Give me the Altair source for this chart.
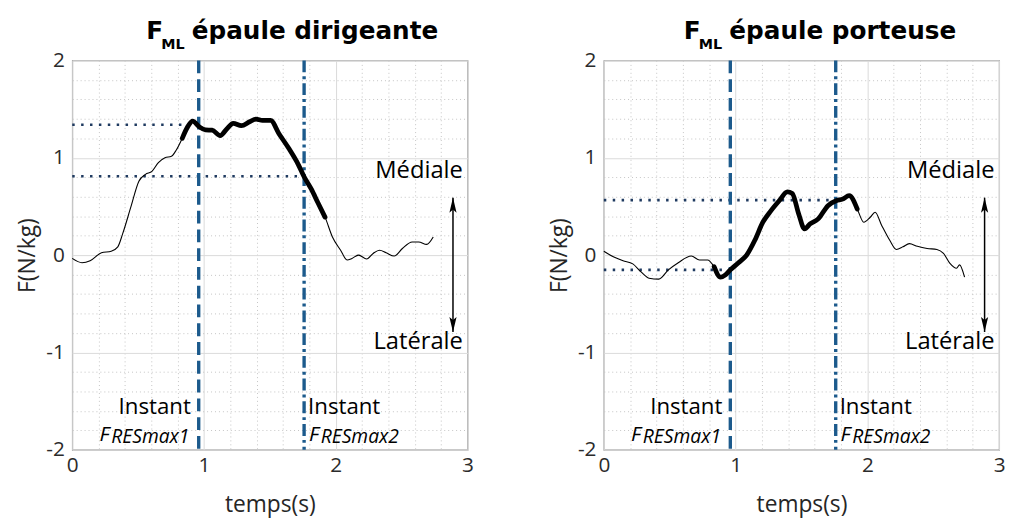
import altair as alt
import pandas as pd

# ---------------- data ----------------
left_t = [0.0, 0.074, 0.136, 0.222, 0.296, 0.346, 0.383, 0.444, 0.506, 0.556, 0.605, 0.654,
          0.704, 0.753, 0.79, 0.835, 0.877, 0.914, 0.963, 1.012, 1.062, 1.123, 1.173, 1.222,
          1.284, 1.346, 1.395, 1.444, 1.506, 1.568, 1.642, 1.716, 1.758, 1.815, 1.864, 1.919,
          1.975, 2.037, 2.086, 2.123, 2.173, 2.235, 2.284, 2.333, 2.383, 2.444, 2.506, 2.58,
          2.63, 2.69, 2.74]
left_f = [-0.034, -0.078, -0.058, 0.024, 0.04, 0.085, 0.22, 0.49, 0.76, 0.83, 0.86, 0.95,
          1.0, 1.015, 1.08, 1.20, 1.32, 1.377, 1.32, 1.286, 1.283, 1.228, 1.296, 1.354,
          1.33, 1.37, 1.398, 1.384, 1.384, 1.25, 1.10, 0.93, 0.81, 0.677, 0.54, 0.39,
          0.186, 0.05, -0.05, -0.034, 0.0, -0.04, 0.017, 0.05, 0.024, -0.01, 0.068, 0.135,
          0.135, 0.11, 0.186]

right_t = [0.0, 0.072, 0.146, 0.22, 0.28, 0.343, 0.417, 0.49, 0.565, 0.664, 0.726, 0.788,
           0.837, 0.886, 0.923, 0.96, 1.022, 1.084, 1.146, 1.207, 1.269, 1.331, 1.393, 1.43,
           1.479, 1.523, 1.565, 1.627, 1.701, 1.763, 1.812, 1.862, 1.923, 1.973, 2.022, 2.059,
           2.109, 2.17, 2.22, 2.27, 2.319, 2.38, 2.454, 2.528, 2.578, 2.627, 2.677, 2.7, 2.738]
right_f = [0.04, -0.017, -0.058, -0.09, -0.17, -0.237, -0.247, -0.152, -0.078, -0.01, -0.05, -0.05,
           -0.118, -0.227, -0.203, -0.152, -0.078, 0.0, 0.152, 0.338, 0.457, 0.558, 0.65, 0.633,
           0.423, 0.27, 0.32, 0.372, 0.508, 0.558, 0.575, 0.61, 0.474, 0.338, 0.389, 0.44,
           0.305, 0.152, 0.058, 0.085, 0.118, 0.09, 0.068, 0.058, 0.017, -0.085, -0.135, -0.1, -0.227]

left_bold = [0.835, 1.919]
right_bold = [0.837, 1.923]

instants = [0.96, 1.76]

left_levels = [1.34, 0.81]
left_level_ends = [0.84, 1.76]
right_levels = [-0.152, 0.565]
right_level_ends = [0.96, 1.76]

titles = ["épaule dirigeante", "épaule porteuse"]
x_ticks = [0, 0.2, 0.4, 0.6, 0.8, 1, 1.2, 1.4, 1.6, 1.8, 2, 2.2, 2.4, 2.6, 2.8, 3]
y_ticks = [-2, -1.8, -1.6, -1.4, -1.2, -1, -0.8, -0.6, -0.4, -0.2, 0, 0.2, 0.4, 0.6, 0.8,
           1, 1.2, 1.4, 1.6, 1.8, 2]

arrow_x = 2.89
arrow_top = 0.59
arrow_bottom = -0.79

# ---------------- styling ----------------
FONT = "Open Sans"
TFONT = "DejaVu Sans"
BLUE = "#1c5a8c"
NAVY = "#1f3a60"
W, H = 400, 394

IS_MAJOR = "abs(datum.value - round(datum.value)) < 0.000001"


def make_axis(values, label_pad, title_pad):
    return alt.Axis(
        values=values,
        labelExpr=f"{IS_MAJOR} ? '' + round(datum.value) : ''",
        labelOverlap=False,
        labelFlush=False,
        labelPadding=label_pad,
        labelFont=FONT, labelFontSize=21, labelColor="#2b2b2b",
        titleFont=FONT, titleFontSize=23, titleFontWeight="normal", titleColor="#262626",
        titlePadding=title_pad,
        ticks=False, domain=False,
        grid=True,
        gridColor={"condition": {"test": IS_MAJOR, "value": "#dadada"}, "value": "#c4c4c4"},
        gridDash={"condition": {"test": IS_MAJOR, "value": []}, "value": [1, 3]},
        gridWidth=1,
    )


x_axis = make_axis(x_ticks, 5, 18)
y_axis = make_axis(y_ticks, 8, 6)

X = alt.X("t:Q", scale=alt.Scale(domain=[0, 3], nice=False, zero=False), axis=x_axis, title="temps(s)")
Y = alt.Y("f:Q", scale=alt.Scale(domain=[-2, 2], nice=False, zero=False), axis=y_axis, title="F(N/kg)")

ARROW_UP = "M0,-1L-0.45,0.9L0,0.5L0.45,0.9Z"
ARROW_DOWN = "M0,1L-0.45,-0.9L0,-0.5L0.45,-0.9Z"


def panel(t, f, bold, levels, level_ends, title, title_x):
    curve = pd.DataFrame({"t": t, "f": f})
    base = alt.Chart(curve)

    lev = pd.DataFrame({"t": [0] * len(levels), "t2": level_ends, "f": levels})
    dotted = alt.Chart(lev).mark_rule(color=NAVY, strokeWidth=2.6, strokeDash=[2.5, 6.5]).encode(
        x=X, x2="t2:Q", y=Y)

    v1 = alt.Chart(pd.DataFrame({"t": [instants[0]]})).mark_rule(
        color=BLUE, strokeWidth=3.4, strokeDash=[13, 6]).encode(x=X)
    v2 = alt.Chart(pd.DataFrame({"t": [instants[1]]})).mark_rule(
        color=BLUE, strokeWidth=3.4, strokeDash=[12, 4, 3, 4]).encode(x=X)

    thin = base.mark_line(color="black", strokeWidth=1.1, interpolate="monotone").encode(x=X, y=Y)
    thick = base.transform_filter(
        f"datum.t >= {bold[0]} && datum.t <= {bold[1]}"
    ).mark_line(color="black", strokeWidth=4.8, interpolate="monotone", strokeCap="round").encode(x=X, y=Y)

    arrow_df = pd.DataFrame({"t": [arrow_x], "f": [arrow_bottom], "f2": [arrow_top]})
    arrow = alt.Chart(arrow_df).mark_rule(color="black", strokeWidth=1.5).encode(x=X, y=Y, y2="f2:Q")
    head_up = alt.Chart(pd.DataFrame({"t": [arrow_x], "f": [arrow_top]})).mark_point(
        shape=ARROW_UP, filled=True, color="black", size=260, opacity=1).encode(
        x=X, y=Y, yOffset=alt.value(8))
    head_dn = alt.Chart(pd.DataFrame({"t": [arrow_x], "f": [arrow_bottom]})).mark_point(
        shape=ARROW_DOWN, filled=True, color="black", size=260, opacity=1).encode(
        x=X, y=Y, yOffset=alt.value(-8))

    side = pd.DataFrame({"t": [2.965, 2.965], "f": [0.86, -0.89], "txt": ["Médiale", "Latérale"]})
    side_txt = alt.Chart(side).mark_text(
        font=FONT, fontSize=24, align="right", baseline="middle", color="black").encode(
        x=X, y=Y, text="txt:N")

    inst_l = alt.Chart(pd.DataFrame({"t": [0.90], "f": [-1.63]})).mark_text(
        text="Instant", font=FONT, fontSize=22.5, align="right", baseline="alphabetic", color="black"
    ).encode(x=X, y=Y)
    inst_r = alt.Chart(pd.DataFrame({"t": [1.79], "f": [-1.63]})).mark_text(
        text="Instant", font=FONT, fontSize=22.5, align="left", baseline="alphabetic", color="black"
    ).encode(x=X, y=Y)
    fs = pd.DataFrame({"t": [0.207, 1.797], "f": [-1.91, -1.91]})
    f_txt = alt.Chart(fs).mark_text(
        text="F", font=FONT, fontSize=21, fontStyle="italic", align="left", baseline="alphabetic",
        color="black").encode(x=X, y=Y)
    subs = pd.DataFrame({"t": [0.296, 1.886], "f": [-1.91, -1.91], "txt": ["RESmax1", "RESmax2"]})
    sub_txt = alt.Chart(subs).mark_text(
        font=FONT, fontSize=19.5, fontStyle="italic", align="left", baseline="alphabetic", dy=2,
        color="black").encode(x=X, y=Y, text="txt:N")

    one = pd.DataFrame({"k": [0]})
    t_f = alt.Chart(one).mark_text(
        text="F", font=TFONT, fontSize=25, fontWeight="bold", align="left", baseline="alphabetic",
        color="black").encode(x=alt.value(title_x[0]), y=alt.value(-22))
    t_ml = alt.Chart(one).mark_text(
        text="ML", font=TFONT, fontSize=14.5, fontWeight="bold", align="left", baseline="alphabetic",
        color="black").encode(x=alt.value(title_x[1]), y=alt.value(-12))
    t_main = alt.Chart(one).mark_text(
        text=title, font=TFONT, fontSize=25, fontWeight="bold", align="left", baseline="alphabetic",
        color="black").encode(x=alt.value(title_x[2]), y=alt.value(-22))

    return alt.layer(
        dotted, v1, v2, thin, thick, arrow, head_up, head_dn, side_txt,
        inst_l, inst_r, f_txt, sub_txt, t_f, t_ml, t_main,
    ).properties(width=W, height=H)


left = panel(left_t, left_f, left_bold, left_levels, left_level_ends, titles[0], [75, 90, 121])
right = panel(right_t, right_f, right_bold, right_levels, right_level_ends, titles[1], [81, 96, 127])

chart = alt.hconcat(left, right, spacing=74).properties(
    padding={"left": 8, "top": 7, "right": 0, "bottom": 0}
).configure_view(stroke="#8a8a8a", strokeWidth=1.2)

chart.save("out.html", embed_options={"renderer": "svg", "actions": False})
